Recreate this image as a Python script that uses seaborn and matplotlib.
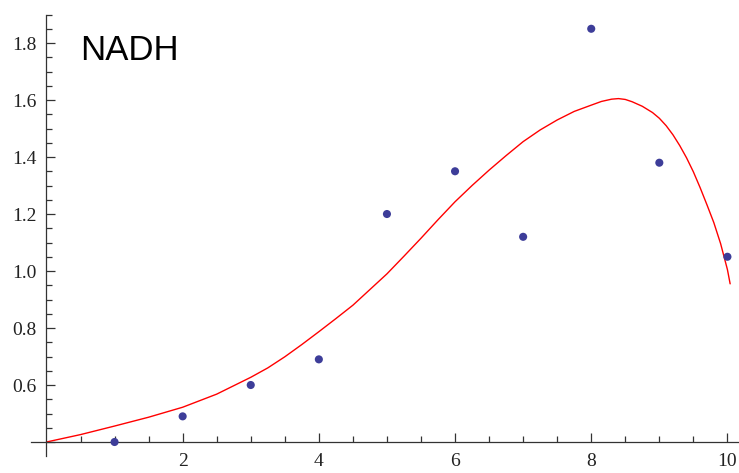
import numpy as np
import pandas as pd
import seaborn as sns
import matplotlib
matplotlib.use("Agg")
import matplotlib.pyplot as plt
from matplotlib import font_manager

# measured points
day = [1, 2, 3, 4, 5, 6, 7, 8, 9, 10]
nadh = [0.40, 0.49, 0.60, 0.69, 1.20, 1.35, 1.12, 1.85, 1.38, 1.05]

# fitted curve
fit_x = [0, 0.5, 1, 1.5, 2, 2.5, 3, 3.25, 3.5, 3.75, 4, 4.25, 4.5, 4.75,
         5, 5.25, 5.5, 5.75, 6, 6.25, 6.5, 6.75, 7, 7.25, 7.5, 7.75,
         8, 8.15, 8.3, 8.4, 8.5, 8.6, 8.75, 8.9, 9, 9.1, 9.2, 9.3, 9.4, 9.5,
         9.6, 9.7, 9.8, 9.9, 10, 10.04]
fit_y = [0.400, 0.426, 0.456, 0.487, 0.522, 0.568, 0.627, 0.660, 0.699, 0.742,
         0.787, 0.833, 0.880, 0.935, 0.990, 1.052, 1.115, 1.180, 1.243, 1.300,
         1.354, 1.405, 1.454, 1.495, 1.530, 1.560, 1.582, 1.595, 1.603, 1.605,
         1.602, 1.594, 1.578, 1.556, 1.536, 1.510, 1.478, 1.440, 1.397, 1.348,
         1.292, 1.232, 1.170, 1.096, 1.005, 0.955]

xticks = [2, 4, 6, 8, 10]
yticks = [0.6, 0.8, 1.0, 1.2, 1.4, 1.6, 1.8]

pts = pd.DataFrame({"x": day, "y": nadh})
curve = pd.DataFrame({"x": fit_x, "y": fit_y})

sns.set_style("white")
plt.rcParams["font.family"] = ["Liberation Serif", "DejaVu Serif"]

fig = plt.figure(figsize=(7.39, 4.73), dpi=100)
ax = fig.add_axes([0.0426, 0.0354, 0.9574, 0.9339])

sns.lineplot(data=curve, x="x", y="y", ax=ax, color="#ff0000", lw=1.0, sort=False)
sns.scatterplot(data=pts, x="x", y="y", ax=ax, color="#3d3d99", s=34,
                edgecolor="none", zorder=3)

ax.set_xlim(-0.22, 10.17)
ax.set_ylim(0.35, 1.9)

for s in ["top", "right"]:
    ax.spines[s].set_visible(False)
ax.spines["left"].set_position(("data", 0))
ax.spines["bottom"].set_position(("data", 0.4))
for s in ["left", "bottom"]:
    ax.spines[s].set_color("#333333")
    ax.spines[s].set_linewidth(0.9)

ax.set_xticks(xticks)
ax.set_xticklabels([str(t) for t in xticks])
ax.set_xticks(np.arange(0.5, 10.01, 0.5), minor=True)
ax.set_yticks([0.4] + yticks)
ax.set_yticklabels([""] + [f"{t:.1f}" for t in yticks])
ax.set_yticks(np.arange(0.45, 1.91, 0.05), minor=True)

ax.tick_params(which="both", direction="in", color="#333333", width=0.9,
               bottom=True, left=True, labelsize=14, labelcolor="#222222")
ax.tick_params(which="major", length=6.2)
ax.tick_params(which="minor", length=4)
ax.tick_params(axis="x", which="major", pad=8)
ax.tick_params(axis="y", which="major", pad=7)
ax.set_xlabel("")
ax.set_ylabel("")

names = {f.name for f in font_manager.fontManager.ttflist}
if "Liberation Sans Narrow" in names:
    ax.text(0.5, 1.74, "NADH", family="Liberation Sans Narrow", fontsize=28,
            color="black", va="baseline")
else:
    ax.text(0.5, 1.74, "NADH", family="Liberation Sans", fontsize=25,
            color="black", va="baseline")

fig.savefig("out.png", dpi=100)
